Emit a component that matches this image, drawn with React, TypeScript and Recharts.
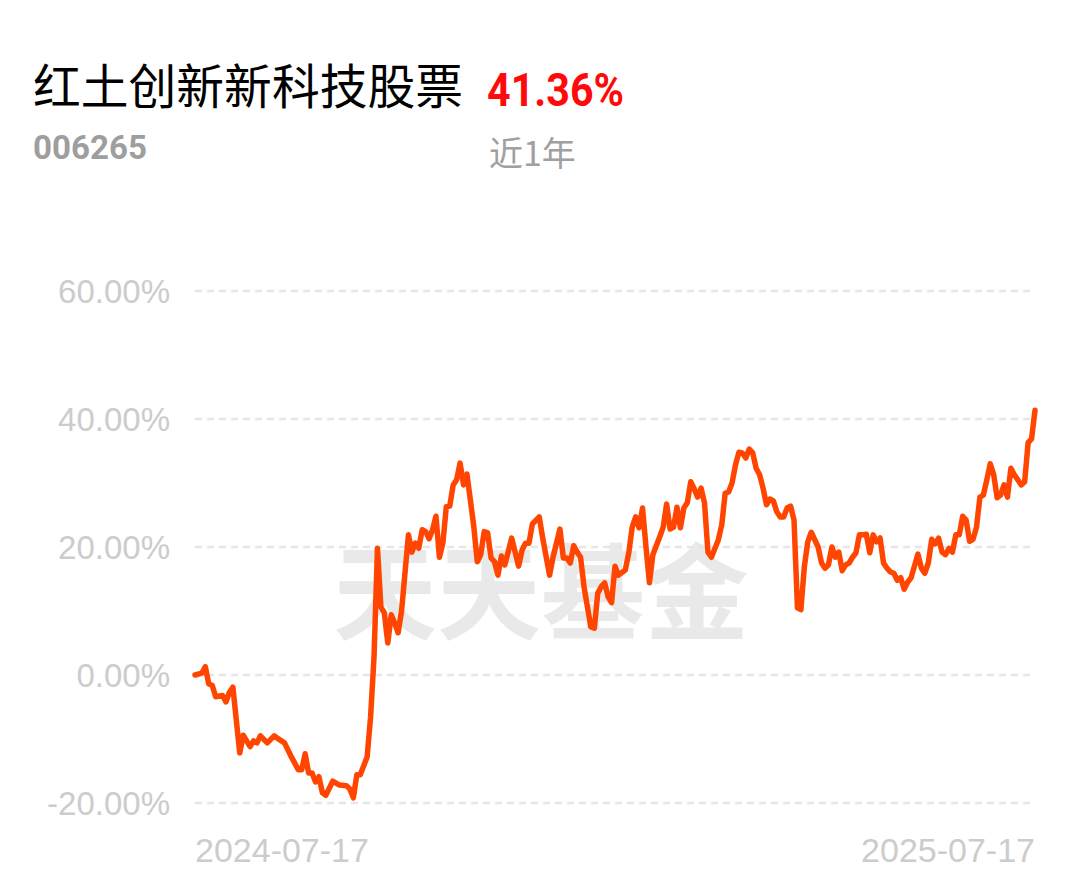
import React from 'react';
import { LineChart, Line, XAxis, YAxis, CartesianGrid } from 'recharts';

const fundName = '红土创新新科技股票';
const fundCode = '006265';
const periodReturn = '41.36%';
const periodLabel = '近1年';
const watermark = '天天基金';

const startDate = '2024-07-17';
const endDate = '2025-07-17';
const totalDays = 244;

const yTicks = [-20, 0, 20, 40, 60];

const tradingDay = [
  0, 2, 3, 4, 5, 6, 8, 9, 10, 11, 13, 14, 16, 17, 18, 19, 21, 23, 24, 26, 28, 30, 31, 32, 33, 34, 35, 36, 37, 38,
  40, 42, 44, 45, 46, 47, 48, 50, 51, 52, 53, 54, 55, 56, 57, 58, 59,
  60, 62, 63, 64, 65, 66, 67, 68, 69, 70, 71, 72, 73, 74, 75, 76, 77, 78, 79, 80, 81, 82, 83, 84, 85, 86, 87, 88,
  89, 90, 92, 94, 95, 96, 97, 98, 100, 101, 103, 104, 106, 107, 108, 109, 110, 111, 112, 113, 114, 115, 116, 117, 118,
  119, 120, 121, 122, 123, 125, 126, 127, 128, 129, 130, 131, 132, 133, 135, 136, 137, 138, 139, 140, 141, 142, 143,
  144, 145, 146, 147, 148, 149, 150, 152, 153, 154, 155, 156, 157, 158, 159, 160, 161, 162, 163, 164, 165, 166, 167,
  168, 169, 170, 171, 172, 173, 174, 175, 176, 177, 178, 179,
  181, 182, 183, 184, 185, 186, 187, 188, 189, 190, 191, 192, 193, 194, 195, 196, 197, 198, 199, 200, 201, 202, 203,
  204, 205, 206, 207, 208, 210, 211, 212, 213, 214, 215, 216, 217, 218, 219, 220, 221, 222, 223, 224, 225, 226, 227,
  228, 229, 230, 231, 232, 233, 234, 235, 236, 237, 238, 239, 240, 241, 242, 243, 244,
];

const returnPct = [
  0, 0.3, 1.3, -1.4, -1.6, -3.4, -3.2, -4.2, -2.7, -1.9, -12.2, -9.4, -11.2, -10.3, -10.6, -9.5, -10.6, -9.5, -9.9,
  -10.6, -12.8, -14.8, -14.8, -12.3, -15.3, -15.3, -16.7, -15.9, -18.4, -18.8,
  -16.6, -17.2, -17.3, -17.8, -19.2, -15.6, -15.6, -12.8, -6.6, 2.8, 19.8, 10.6, 9.7, 5.0, 9.4, 8.1, 6.6,
  10.0, 21.9, 19.2, 20.6, 19.8, 22.7, 22.4, 21.3, 22.7, 24.8, 18.4, 20.6, 26.3, 26.4, 29.7, 30.5, 33.1, 29.7, 31.4,
  27.3, 23.1, 17.7, 18.8, 22.4, 22.2, 18.3, 17.7, 15.6,
  18.6, 17.2, 21.4, 17.0, 19.5, 20.6, 20.6, 23.6, 24.7, 21.4, 15.6, 18.4, 22.8, 18.3, 18.3, 17.5, 20.2, 19.2, 18.4,
  13.8, 10.6, 7.5, 7.3, 12.8, 13.8,
  14.4, 12.2, 11.3, 17.0, 15.6, 16.4, 19.1, 23.1, 24.7, 23.0, 26.1, 20.0, 14.4, 18.8, 21.6, 23.1, 26.7, 22.8, 23.1,
  26.2, 23.0, 26.1, 26.9,
  30.2, 29.1, 27.8, 29.2, 26.9, 19.2, 18.4, 21.1, 23.4, 28.4, 28.6, 30.0, 32.8, 34.8, 34.7, 33.9, 35.3, 34.7, 32.3,
  31.3, 29.2, 26.6, 27.5,
  27.2, 25.5, 24.7, 24.7, 26.1, 26.4, 24.2, 10.5, 10.2, 16.9, 20.8, 22.3,
  20.0, 17.5, 16.7, 17.2, 20.0, 18.4, 19.2, 16.3, 17.2, 17.5, 18.4, 19.1, 21.9, 21.9, 22.0, 19.1, 21.9, 20.8, 21.4,
  17.5, 16.7, 16.1, 15.9,
  14.8, 15.2, 13.4, 14.5, 15.2, 18.9, 16.7, 15.9, 17.5, 21.2, 20.5, 21.4, 19.2, 18.8, 19.8, 19.2, 21.9, 21.9, 24.8,
  24.2, 20.9, 21.2, 23.1,
  27.8, 28.1, 30.5, 33.0, 31.3, 27.7, 28.1, 29.7, 27.8, 32.3, 31.3, 30.5, 29.7, 30.2, 36.3, 36.9, 41.36,
];

const rows = tradingDay.map((d, i) => ({ d, v: returnPct[i] }));

const axisFont = '"Liberation Sans", Arial, Helvetica, sans-serif';
const cjkFont = '"Noto Sans CJK SC", "Noto Sans", sans-serif';

const XTick = (props: any) => {
  const { x, y, payload } = props;
  const isFirst = payload.value === 0;
  return (
    <text
      x={x}
      y={y}
      dy={59}
      textAnchor={isFirst ? 'start' : 'end'}
      fill="#cccccc"
      fontSize={34}
      fontFamily={axisFont}
    >
      {isFirst ? startDate : endDate}
    </text>
  );
};

export default function App() {
  return (
    <div style={{ position: 'absolute', left: 0, top: 0, width: 1080, height: 881, background: '#ffffff' }}>
      <svg width={1080} height={881} style={{ position: 'absolute', left: 0, top: 0 }}>
        <text x={33} y={104} fontSize={48} fontFamily={cjkFont} fill="#000000" textLength={430} lengthAdjust="spacingAndGlyphs">
          {fundName}
        </text>
        <text
          x={487}
          y={106}
          fontSize={46}
          fontWeight={700}
          fontFamily='Roboto, "Liberation Sans", sans-serif'
          fill="#ff0a0a"
          textLength={137}
          lengthAdjust="spacingAndGlyphs"
        >
          {periodReturn}
        </text>
        <text
          x={33}
          y={159}
          fontSize={34}
          fontWeight={700}
          fontFamily='Roboto, "Liberation Sans", sans-serif'
          fill="#9e9e9e"
          textLength={114}
          lengthAdjust="spacingAndGlyphs"
        >
          {fundCode}
        </text>
        <text x={489} y={166} fontSize={34} fontFamily={cjkFont} fill="#a0a0a0">
          {periodLabel}
        </text>
        <text
          x={541}
          y={632}
          textAnchor="middle"
          fontSize={104}
          fontWeight={700}
          fontFamily={cjkFont}
          fill="#e9e9e9"
        >
          {watermark}
        </text>
      </svg>
      <div style={{ position: 'absolute', left: 0, top: 0 }}>
        <LineChart
          width={1080}
          height={881}
          data={rows}
          margin={{ top: 291, right: 45, left: 0, bottom: 38 }}
        >
          <CartesianGrid vertical={false} stroke="#e6e6e6" strokeWidth={2.5} strokeDasharray="7 5" />
          <XAxis
            dataKey="d"
            type="number"
            domain={[0, totalDays]}
            ticks={[0, totalDays]}
            axisLine={false}
            tickLine={false}
            tickSize={0}
            tickMargin={0}
            height={40}
            tick={<XTick />}
            interval={0}
          />
          <YAxis
            type="number"
            domain={[-20, 60]}
            ticks={yTicks}
            axisLine={false}
            tickLine={false}
            tickSize={0}
            tickMargin={25}
            width={195}
            interval={0}
            tick={{ fill: '#cccccc', fontSize: 33, fontFamily: axisFont }}
            tickFormatter={(v: number) => `${v.toFixed(2)}%`}
          />
          <Line
            type="linear"
            dataKey="v"
            stroke="#ff4500"
            strokeWidth={5.5}
            dot={false}
            strokeLinejoin="round"
            strokeLinecap="round"
            isAnimationActive={false}
          />
        </LineChart>
      </div>
    </div>
  );
}
